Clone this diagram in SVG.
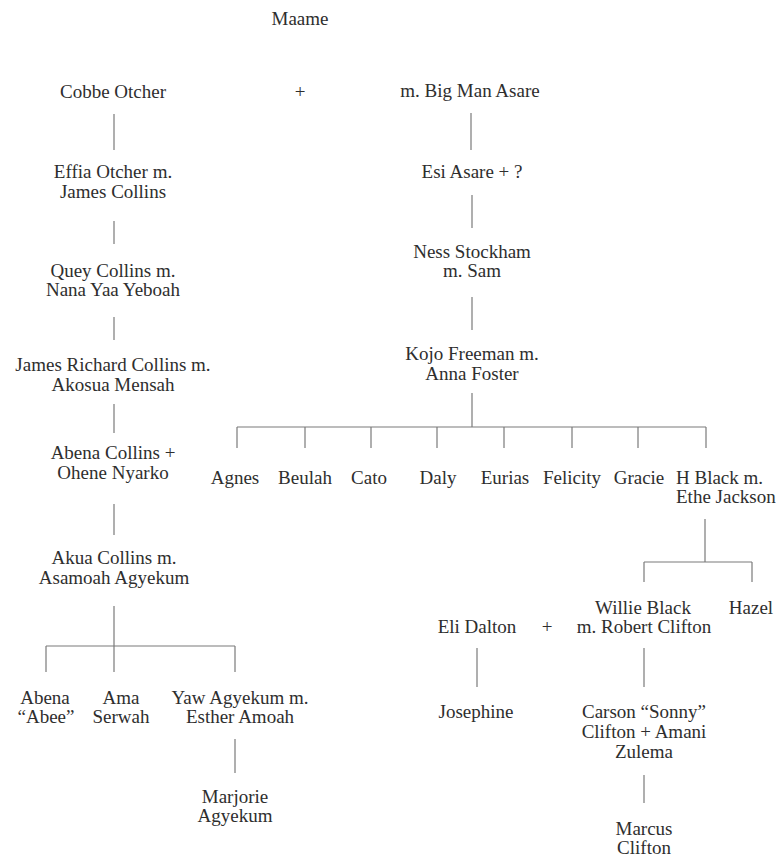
<svg xmlns="http://www.w3.org/2000/svg" width="779" height="857" viewBox="0 0 779 857">
<style>
text{font-family:"Liberation Serif","Times New Roman",serif;font-size:19px;fill:#2e2e2e;text-anchor:middle}
.l{text-anchor:start}
.c line{stroke:#7a7a7a;stroke-width:1.2}
</style>
<rect width="779" height="857" fill="#fff"/>
<g id="maame"><text x="300" y="25">Maame</text></g>
<g id="cobbe"><text x="113" y="98">Cobbe Otcher</text></g>
<g id="plus1"><text x="300" y="98">+</text></g>
<g id="bigman"><text x="470" y="97">m. Big Man Asare</text></g>
<g id="effia"><text x="113" y="178">Effia Otcher m.</text><text x="113" y="198">James Collins</text></g>
<g id="quey"><text x="113" y="277">Quey Collins m.</text><text x="113" y="296">Nana Yaa Yeboah</text></g>
<g id="jrc"><text x="113" y="371">James Richard Collins m.</text><text x="113" y="391">Akosua Mensah</text></g>
<g id="abenac"><text x="113" y="459">Abena Collins +</text><text x="113" y="479">Ohene Nyarko</text></g>
<g id="akua"><text x="114" y="564">Akua Collins m.</text><text x="114" y="584">Asamoah Agyekum</text></g>
<g id="abee"><text x="45" y="704">Abena</text><text x="46" y="723">“Abee”</text></g>
<g id="ama"><text x="121" y="704">Ama</text><text x="121" y="723">Serwah</text></g>
<g id="yaw"><text x="240" y="704">Yaw Agyekum m.</text><text x="240" y="723">Esther Amoah</text></g>
<g id="marjorie"><text x="235" y="803">Marjorie</text><text x="235" y="822">Agyekum</text></g>
<g id="esi"><text x="472" y="178">Esi Asare + ?</text></g>
<g id="ness"><text x="472" y="258">Ness Stockham</text><text x="472" y="277">m. Sam</text></g>
<g id="kojo"><text x="472" y="360">Kojo Freeman m.</text><text x="472" y="380">Anna Foster</text></g>
<g id="agnes"><text x="235" y="484">Agnes</text></g>
<g id="beulah"><text x="305" y="484">Beulah</text></g>
<g id="cato"><text x="369" y="484">Cato</text></g>
<g id="daly"><text x="438" y="484">Daly</text></g>
<g id="eurias"><text x="505" y="484">Eurias</text></g>
<g id="felicity"><text x="572" y="484">Felicity</text></g>
<g id="gracie"><text x="639" y="484">Gracie</text></g>
<g id="hblack"><text class="l" x="676" y="484">H Black m.</text><text class="l" x="676" y="503">Ethe Jackson</text></g>
<g id="willie"><text x="643" y="614">Willie Black</text><text x="644" y="633">m. Robert Clifton</text></g>
<g id="hazel"><text x="751" y="614">Hazel</text></g>
<g id="eli"><text x="477" y="633">Eli Dalton</text></g>
<g id="plus2"><text x="547" y="633">+</text></g>
<g id="josephine"><text x="476" y="718">Josephine</text></g>
<g id="carson"><text x="644" y="718">Carson “Sonny”</text><text x="644" y="738">Clifton + Amani</text><text x="644" y="758">Zulema</text></g>
<g id="marcus"><text x="644" y="835">Marcus</text><text x="644" y="854">Clifton</text></g>
<g id="connectors" class="c">
<line x1="114" y1="114" x2="114" y2="150"/>
<line x1="114" y1="221" x2="114" y2="244"/>
<line x1="114" y1="317" x2="114" y2="340"/>
<line x1="114" y1="404" x2="114" y2="433"/>
<line x1="114" y1="504" x2="114" y2="535"/>
<line x1="114" y1="606" x2="114" y2="672"/>
<line x1="46" y1="646" x2="235" y2="646"/>
<line x1="46" y1="646" x2="46" y2="672"/>
<line x1="235" y1="646" x2="235" y2="672"/>
<line x1="235" y1="739" x2="235" y2="773"/>
<line x1="471" y1="113" x2="471" y2="150"/>
<line x1="472" y1="195" x2="472" y2="228"/>
<line x1="472" y1="297" x2="472" y2="330"/>
<line x1="472" y1="393" x2="472" y2="427"/>
<line x1="237" y1="427" x2="706" y2="427"/>
<line x1="237" y1="427" x2="237" y2="448"/>
<line x1="305" y1="427" x2="305" y2="448"/>
<line x1="371" y1="427" x2="371" y2="448"/>
<line x1="437" y1="427" x2="437" y2="448"/>
<line x1="504" y1="427" x2="504" y2="448"/>
<line x1="572" y1="427" x2="572" y2="448"/>
<line x1="638" y1="427" x2="638" y2="448"/>
<line x1="706" y1="427" x2="706" y2="448"/>
<line x1="705" y1="519" x2="705" y2="562"/>
<line x1="644" y1="562" x2="752" y2="562"/>
<line x1="644" y1="562" x2="644" y2="582"/>
<line x1="752" y1="562" x2="752" y2="582"/>
<line x1="477" y1="648" x2="477" y2="687"/>
<line x1="644" y1="648" x2="644" y2="687"/>
<line x1="644" y1="775" x2="644" y2="803"/>
</g>
</svg>
